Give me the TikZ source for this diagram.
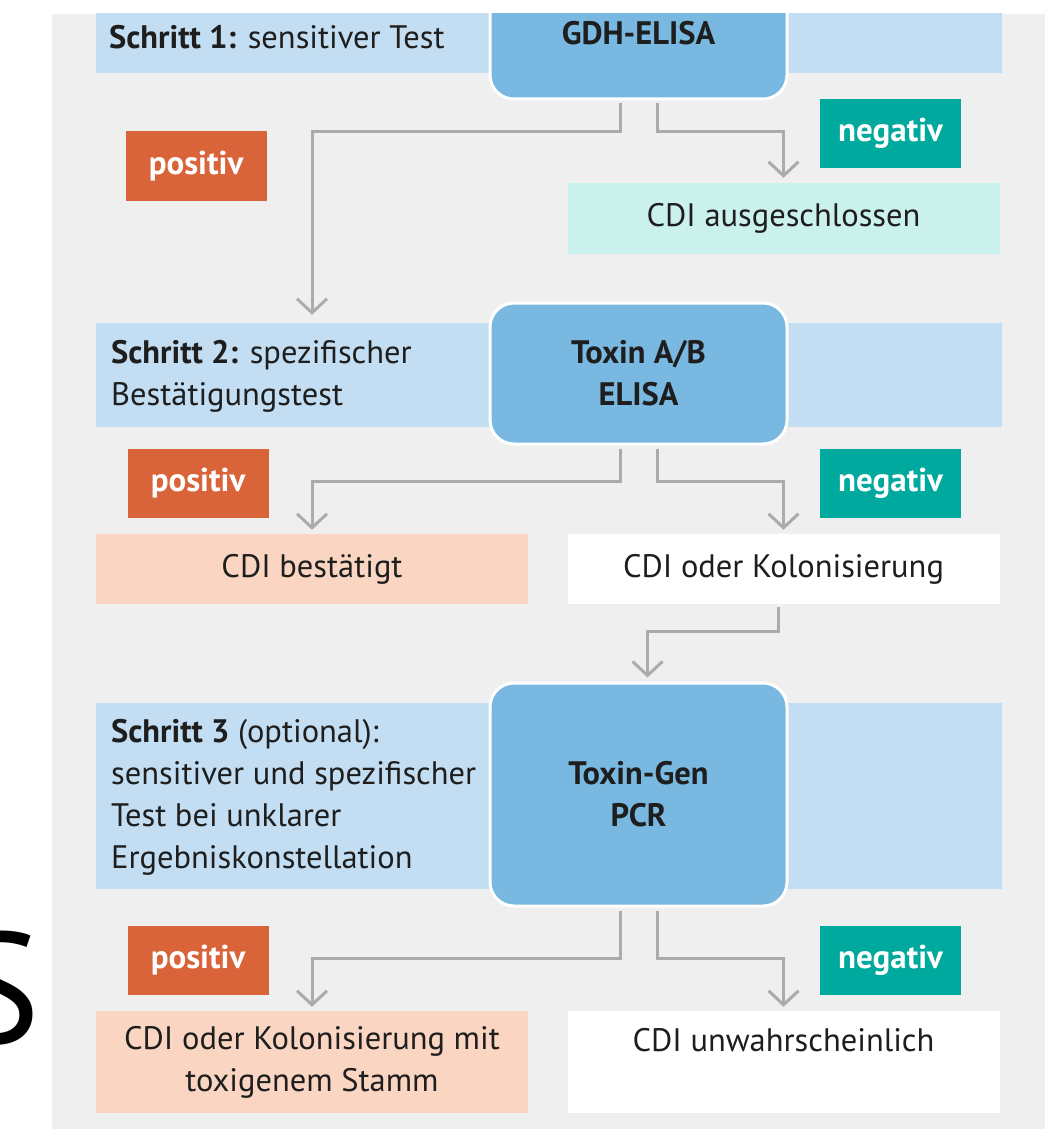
\documentclass[tikz,border=0pt]{standalone}
\usepackage{fontspec}
\setmainfont{PT Sans}
\usetikzlibrary{arrows.meta,positioning}

\definecolor{panelgray}{HTML}{EFEFEF}
\definecolor{bandblue}{HTML}{C3DEF2}
\definecolor{testblue}{HTML}{79B8E0}
\definecolor{posorange}{HTML}{D9643A}
\definecolor{negteal}{HTML}{00A99D}
\definecolor{outcyan}{HTML}{CBF1ED}
\definecolor{outpeach}{HTML}{FAD5C2}
\definecolor{linegray}{HTML}{ABABAB}
\definecolor{txt}{HTML}{1E1E1E}

\begin{document}
\begin{tikzpicture}[x=1pt,y=-1pt,
  every node/.style={inner sep=0pt, text=txt, font=\fontsize{32.5}{42}\selectfont},
  band/.style={fill=bandblue, minimum width=906pt},
  test/.style={fill=testblue, draw=white, line width=3pt, rounded corners=24pt,
    minimum width=297pt, align=center, font=\fontsize{32.5}{42}\selectfont\bfseries},
  tag/.style={minimum width=141pt, minimum height=69pt, text=white,
    font=\fontsize{33}{42}\selectfont\bfseries},
  postag/.style={tag, fill=posorange},
  negtag/.style={tag, fill=negteal},
  result/.style={minimum width=432pt, align=center},
  steptext/.style={anchor=north west, align=left},
  conn/.style={draw=linegray, line width=3pt, shorten <=3pt,
    -{Straight Barb[length=14pt,width=30pt]}}]
  \useasboundingbox (0,0) rectangle (1057,1129);

  % cut-off letter at the left edge
  \node[anchor=base east, text=black, font=\fontsize{158}{158}\selectfont] (bigS) at (41,1043) {S};

  \begin{scope}
    \clip (0,14) rectangle (1057,1129);
    \fill[panelgray] (52,14) rectangle (1045,1129);

    % steps
    \node[band, minimum height=72pt] (band1) at (549,37) {};
    \node[band, minimum height=104pt] (band2) at (549,375) {};
    \node[band, minimum height=186pt] (band3) at (549,796) {};
    \node[steptext] (step1) at (109,25) {\textbf{Schritt 1:} sensitiver Test};
    \node[steptext] (step2) at (111,340) {\textbf{Schritt 2:} spezifischer\\Bestätigungstest};
    \node[steptext] (step3) at (111,719) {\textbf{Schritt 3} (optional):\\sensitiver und spezifischer\\Test bei unklarer\\Ergebniskonstellation};

    % tests
    \node[test, minimum height=131pt] (gdh) at (638.5,33.5) {GDH-ELISA};
    \node[test, minimum height=141pt] (toxab) at (638.5,373.5) {Toxin A/B\\ELISA};
    \node[test, minimum height=223pt] (pcr) at (638.5,794.5) {Toxin-Gen\\PCR};

    % results
    \node[postag] (pos1) at (196,166) {positiv};
    \node[negtag] (neg1) at (890.5,133.5) {negativ};
    \node[postag] (pos2) at (198,483.5) {positiv};
    \node[negtag] (neg2) at (890.5,483.5) {negativ};
    \node[postag] (pos3) at (198,960.5) {positiv};
    \node[negtag] (neg3) at (890.5,960.5) {negativ};

    \node[result, fill=outcyan, minimum height=71pt] (excluded) at (783.5,218.5) {CDI ausgeschlossen};
    \node[result, fill=outpeach, minimum height=70pt] (confirmed) at (312,569) {CDI bestätigt};
    \node[result, fill=white, minimum height=70pt] (colon) at (783.5,569) {CDI oder Kolonisierung};
    \node[result, fill=outpeach, minimum height=102pt] (toxigenic) at (312,1062) {CDI oder Kolonisierung mit\\toxigenem Stamm};
    \node[result, fill=white, minimum height=102pt] (unlikely) at (783.5,1062) {};
    \node[anchor=base] (unlikelytext) at ([yshift=-41pt]unlikely.north) {CDI unwahrscheinlich};

    % arrows
    \draw[conn, shorten >=8pt] ([xshift=-18.5pt]gdh.south) -- ++(0,31) -| (band2.north -| confirmed.north);
    \draw[conn, shorten >=5pt] ([xshift=18.5pt]gdh.south) -- ++(0,31) -| (excluded.north);
    \draw[conn, shorten >=4pt] ([xshift=-18.5pt]toxab.south) -- ++(0,36) -| (confirmed.north);
    \draw[conn, shorten >=4pt] ([xshift=18.5pt]toxab.south) -- ++(0,36) -| (colon.north);
    \draw[conn, shorten >=4pt] ([xshift=-5.5pt]colon.south) -- ++(0,27) -| ([xshift=9pt]pcr.north);
    \draw[conn, shorten >=4pt] ([xshift=-18.5pt]pcr.south) -- ++(0,51) -| (toxigenic.north);
    \draw[conn, shorten >=4pt] ([xshift=18.5pt]pcr.south) -- ++(0,51) -| (unlikely.north);
  \end{scope}
\end{tikzpicture}
\end{document}
